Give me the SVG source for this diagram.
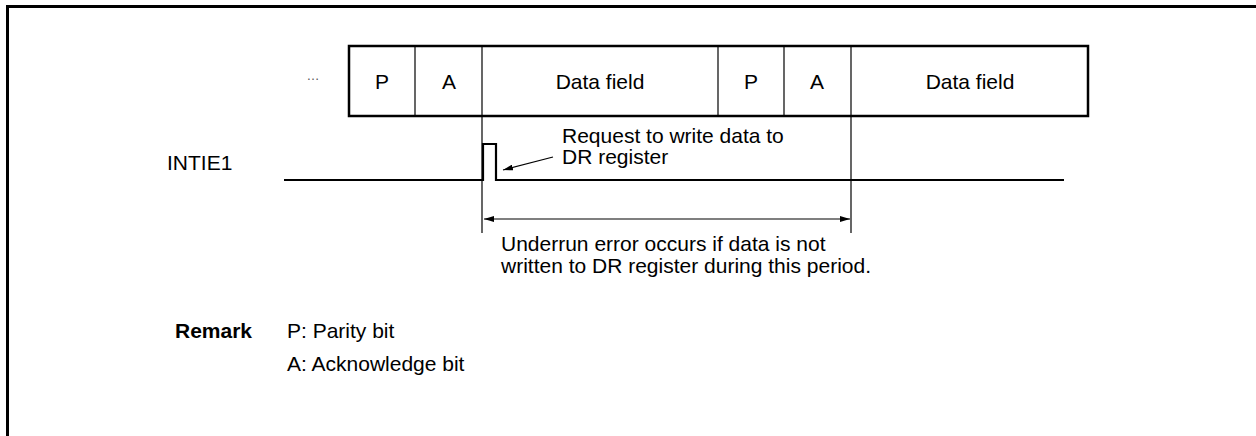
<svg xmlns="http://www.w3.org/2000/svg" width="1256" height="436" viewBox="0 0 1256 436">
<defs>
<style>
text{font-family:"Liberation Sans",Arial,Helvetica,sans-serif;font-size:21px;fill:#000}
.c{text-anchor:middle}
.b{font-weight:bold}
.frame{fill:none;stroke:#000;stroke-width:3}
.box{fill:#fff;stroke:#000;stroke-width:2.5}
.thin{fill:none;stroke:#000;stroke-width:1.2}
.sig{fill:none;stroke:#000;stroke-width:2.2}
</style>
<marker id="ah" viewBox="0 0 10 6" refX="10" refY="3" markerWidth="10" markerHeight="6" markerUnits="userSpaceOnUse" orient="auto-start-reverse">
<path d="M0,0 L10,3 L0,6 z" fill="#000"/>
</marker>
</defs>
<rect width="1256" height="436" fill="#fff"/>
<g id="frame">
<path class="frame" d="M7.5,436 V6.5 H1256"/>
</g>
<g id="frame-row">
<text x="313" y="80" class="c" style="font-size:13px;fill:#555">…</text>
<rect class="box" x="349" y="46" width="739" height="70"/>
<text x="382" y="89" class="c">P</text>
<text x="449" y="89" class="c">A</text>
<text x="600" y="89" class="c">Data field</text>
<text x="751" y="89" class="c">P</text>
<text x="817" y="89" class="c">A</text>
<text x="970" y="89" class="c">Data field</text>
</g>
<g id="signal">
<text x="167" y="170">INTIE1</text>
<path class="sig" d="M284,180 H483 V144 H496 V180 H1064"/>
</g>
<g id="connectors">
<line class="thin" x1="415" y1="46" x2="415" y2="116"/>
<line class="thin" x1="718" y1="46" x2="718" y2="116"/>
<line class="thin" x1="784" y1="46" x2="784" y2="116"/>
<line class="thin" x1="482" y1="46" x2="482" y2="233"/>
<line class="thin" x1="851" y1="46" x2="851" y2="233"/>
<line class="thin" x1="484" y1="219" x2="850" y2="219" marker-start="url(#ah)" marker-end="url(#ah)"/>
<line class="thin" x1="553" y1="157" x2="503" y2="170" marker-end="url(#ah)"/>
</g>
<g id="labels">
<text x="562" y="143">Request to write data to</text>
<text x="562" y="164">DR register</text>
<text x="501" y="251">Underrun error occurs if data is not</text>
<text x="501" y="273">written to DR register during this period.</text>
</g>
<g id="remark">
<text x="175" y="338" class="b">Remark</text>
<text x="287" y="338">P: Parity bit</text>
<text x="287" y="371">A: Acknowledge bit</text>
</g>
</svg>
